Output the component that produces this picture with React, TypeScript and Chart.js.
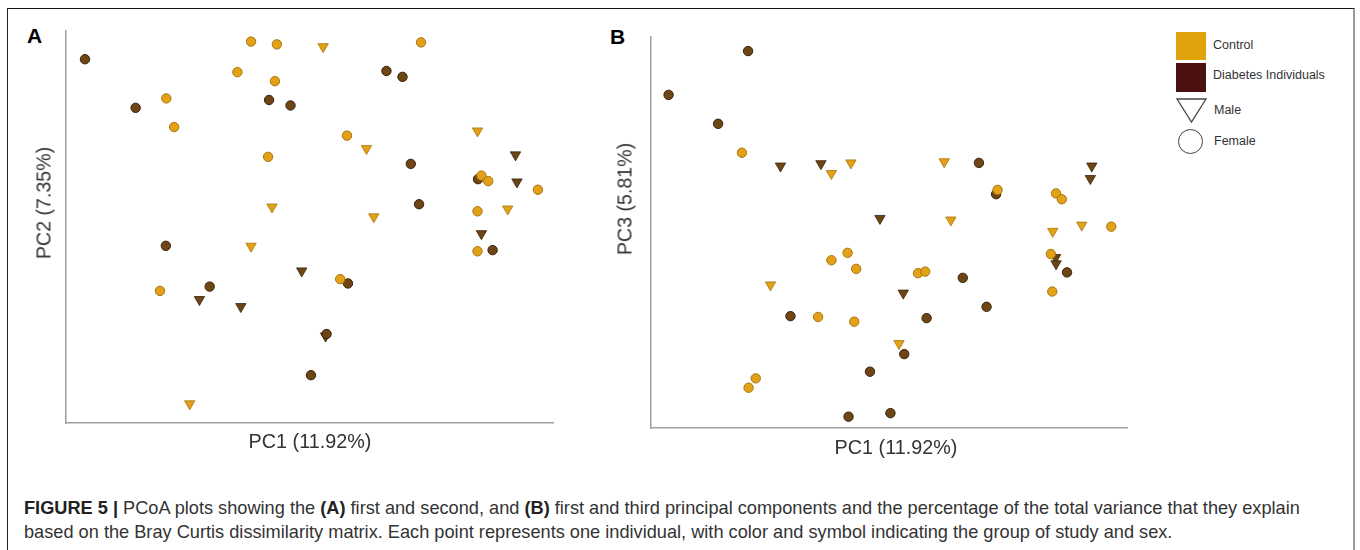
import React, { useEffect, useRef } from "react";
import { Chart, registerables } from "chart.js";

Chart.register(...registerables);

// ---- Data (PC scores, arbitrary units) ----
// Panel A: PC1 (x) vs PC2 (y)
const aControlFemale: [number, number][] = [
  [38.0, 97.3], [43.3, 96.6], [72.9, 97.1], [35.2, 89.5], [42.9, 87.2], [20.6, 82.8],
  [22.2, 75.5], [57.7, 73.3], [41.5, 67.9], [85.3, 63.1], [86.7, 61.7], [96.9, 59.5],
  [84.5, 54.0], [84.5, 43.8], [56.3, 36.7], [19.3, 33.7],
];
const aDiabetesFemale: [number, number][] = [
  [3.9, 92.8], [14.3, 80.4], [41.7, 82.4], [46.1, 81.0], [65.8, 89.8], [69.1, 88.3],
  [70.8, 66.1], [72.5, 55.8], [84.6, 62.2], [87.6, 44.1], [20.5, 45.2], [29.5, 34.8],
  [57.9, 35.6], [53.5, 22.7], [50.3, 12.2],
];
const aControlMale: [number, number][] = [
  [52.8, 96.0], [84.5, 74.5], [61.7, 70.0], [42.3, 55.1], [63.2, 52.6], [90.7, 54.6],
  [38.0, 45.1], [25.4, 4.9],
];
const aDiabetesMale: [number, number][] = [
  [92.3, 68.4], [92.6, 61.5], [85.3, 48.3], [48.4, 38.8], [27.4, 31.5], [35.9, 29.7],
  [53.3, 22.2],
];

// Panel B: PC1 (x) vs PC3 (y)
const bControlFemale: [number, number][] = [
  [19.1, 70.4], [72.8, 60.9], [85.1, 60.0], [86.3, 58.5], [96.7, 51.5], [41.3, 44.8],
  [37.9, 42.9], [43.1, 40.7], [56.1, 39.6], [57.6, 40.0], [84.0, 44.5], [84.3, 34.9],
  [35.1, 28.4], [42.7, 27.2], [22.0, 12.7], [20.5, 10.3],
];
const bDiabetesFemale: [number, number][] = [
  [20.4, 96.4], [3.7, 85.2], [14.1, 77.8], [68.9, 67.8], [72.5, 59.8], [65.5, 38.4],
  [87.4, 39.8], [70.5, 31.0], [29.3, 28.6], [57.9, 28.1], [53.2, 18.9], [46.0, 14.4],
  [41.5, 2.9], [50.3, 3.8],
];
const bControlMale: [number, number][] = [
  [42.0, 67.8], [37.9, 65.1], [61.6, 68.1], [63.0, 53.2], [90.5, 51.9], [84.4, 50.3],
  [25.1, 36.6], [52.1, 21.6],
];
const bDiabetesMale: [number, number][] = [
  [27.2, 67.0], [35.7, 67.6], [92.6, 67.0], [92.3, 63.8], [48.1, 53.6], [53.0, 34.5],
  [85.0, 43.6], [85.1, 42.0],
];

const axisRange = { min: 0, max: 100 };
const groupLabels = ["Control", "Diabetes Individuals"];
const sexLabels = ["Male", "Female"];

const CONTROL_FILL = "#E2A116";
const CONTROL_EDGE = "#A87510";
const DIAB_FILL = "#6E4616";
const DIAB_EDGE = "#3A2208";
const FONT = '"Liberation Sans", Arial, Helvetica, sans-serif';

function toPts(arr: [number, number][]) {
  return arr.map(([x, y]) => ({ x, y }));
}

function buildConfig(
  cf: [number, number][],
  df: [number, number][],
  cm: [number, number][],
  dm: [number, number][]
): any {
  const circle = (label: string, data: [number, number][], fill: string, edge: string) => ({
    label,
    data: toPts(data),
    pointStyle: "circle",
    pointRadius: 4.7,
    pointBorderWidth: 1,
    backgroundColor: fill,
    borderColor: edge,
    clip: false,
  });
  const tri = (label: string, data: [number, number][], fill: string, edge: string) => ({
    label,
    data: toPts(data),
    pointStyle: "triangle",
    rotation: 180,
    pointRadius: 6,
    pointBorderWidth: 0.8,
    backgroundColor: fill,
    borderColor: edge,
    clip: false,
  });
  const axis = {
    type: "linear",
    min: axisRange.min,
    max: axisRange.max,
    ticks: { display: false },
    grid: { display: false, drawTicks: false },
    border: { display: true, color: "#A0A0A0", width: 1.5 },
    title: { display: false },
  };
  return {
    type: "scatter",
    data: {
      datasets: [
        circle(`${groupLabels[0]} ${sexLabels[1]}`, cf, CONTROL_FILL, CONTROL_EDGE),
        tri(`${groupLabels[0]} ${sexLabels[0]}`, cm, CONTROL_FILL, CONTROL_EDGE),
        circle(`${groupLabels[1]} ${sexLabels[1]}`, df, DIAB_FILL, DIAB_EDGE),
        tri(`${groupLabels[1]} ${sexLabels[0]}`, dm, DIAB_FILL, DIAB_EDGE),
      ],
    },
    options: {
      responsive: false,
      animation: false,
      devicePixelRatio: 1,
      layout: { padding: 20 },
      plugins: { legend: { display: false }, tooltip: { enabled: false } },
      scales: { x: { ...axis, position: "bottom" }, y: { ...axis, position: "left" } },
    },
  };
}

function Panel(props: {
  left: number;
  top: number;
  width: number;
  height: number;
  series: [number, number][][];
}) {
  const ref = useRef<HTMLCanvasElement | null>(null);
  useEffect(() => {
    if (!ref.current) return;
    const [cf, df, cm, dm] = props.series;
    const chart = new Chart(ref.current, buildConfig(cf, df, cm, dm));
    return () => chart.destroy();
  }, []);
  return (
    <canvas
      ref={ref}
      width={props.width}
      height={props.height}
      style={{
        position: "absolute",
        left: props.left,
        top: props.top,
        width: props.width,
        height: props.height,
      }}
    />
  );
}

const txt = (extra: React.CSSProperties): React.CSSProperties => ({
  position: "absolute",
  fontFamily: FONT,
  whiteSpace: "nowrap",
  ...extra,
});

export default function App() {
  return (
    <div
      style={{
        position: "absolute",
        left: 0,
        top: 0,
        width: 1360,
        height: 550,
        overflow: "hidden",
        background: "#fff",
      }}
    >
      <div
        style={{
          position: "absolute",
          left: 7,
          top: 8,
          width: 1345,
          height: 600,
          borderTop: "1.5px solid #111",
          borderLeft: "1.5px solid #222",
          borderRight: "2px solid #9a9a9a",
        }}
      />
      {/* Panel labels */}
      <div style={txt({ left: 27, top: 24, fontSize: 21, fontWeight: "bold", color: "#000" })}>A</div>
      <div style={txt({ left: 610, top: 25, fontSize: 21, fontWeight: "bold", color: "#000" })}>B</div>

      <Panel left={46} top={11} width={527} height={432} series={[aControlFemale, aDiabetesFemale, aControlMale, aDiabetesMale]} />
      <Panel left={631} top={17} width={516} height={431} series={[bControlFemale, bDiabetesFemale, bControlMale, bDiabetesMale]} />

      {/* Axis titles */}
      <div style={txt({ left: 310, top: 441, fontSize: 19.8, color: "#333", transform: "translate(-50%,-50%)" })}>PC1 (11.92%)</div>
      <div style={txt({ left: 44, top: 203, fontSize: 19.6, color: "#333", transform: "translate(-50%,-50%) rotate(-90deg)" })}>PC2 (7.35%)</div>
      <div style={txt({ left: 896, top: 447, fontSize: 19.8, color: "#333", transform: "translate(-50%,-50%)" })}>PC1 (11.92%)</div>
      <div style={txt({ left: 625, top: 199, fontSize: 19.6, color: "#333", transform: "translate(-50%,-50%) rotate(-90deg)" })}>PC3 (5.81%)</div>

      {/* Legend */}
      <div style={{ position: "absolute", left: 1176, top: 32, width: 30, height: 28, background: "#E0A30C" }} />
      <div style={txt({ left: 1213, top: 45, fontSize: 12.5, color: "#333", transform: "translateY(-50%)" })}>{groupLabels[0]}</div>
      <div style={{ position: "absolute", left: 1176, top: 63, width: 30, height: 29, background: "#4B1111" }} />
      <div style={txt({ left: 1213, top: 75, fontSize: 12.5, color: "#333", transform: "translateY(-50%)" })}>{groupLabels[1]}</div>
      <svg style={{ position: "absolute", left: 1175, top: 97, width: 34, height: 27 }}>
        <polygon points="2,2 31,2 16.5,25" fill="none" stroke="#444" strokeWidth="1.3" />
      </svg>
      <div style={txt({ left: 1214, top: 110, fontSize: 12.5, color: "#333", transform: "translateY(-50%)" })}>{sexLabels[0]}</div>
      <div style={{ position: "absolute", left: 1178, top: 129, width: 25, height: 25, borderRadius: "50%", border: "1.3px solid #444", boxSizing: "border-box" }} />
      <div style={txt({ left: 1214, top: 141, fontSize: 12.5, color: "#333", transform: "translateY(-50%)" })}>{sexLabels[1]}</div>

      {/* Caption */}
      <div style={txt({ left: 24, top: 496, fontSize: 18.2, lineHeight: "24px", color: "#333", whiteSpace: "nowrap" })}>
        <b style={{ color: "#222" }}>FIGURE 5 | </b>PCoA plots showing the <b style={{ color: "#222" }}>(A)</b> first and second, and{" "}
        <b style={{ color: "#222" }}>(B)</b> first and third principal components and the percentage of the total variance that they explain
        <br />
        based on the Bray Curtis dissimilarity matrix. Each point represents one individual, with color and symbol indicating the group of study and sex.
      </div>
    </div>
  );
}
